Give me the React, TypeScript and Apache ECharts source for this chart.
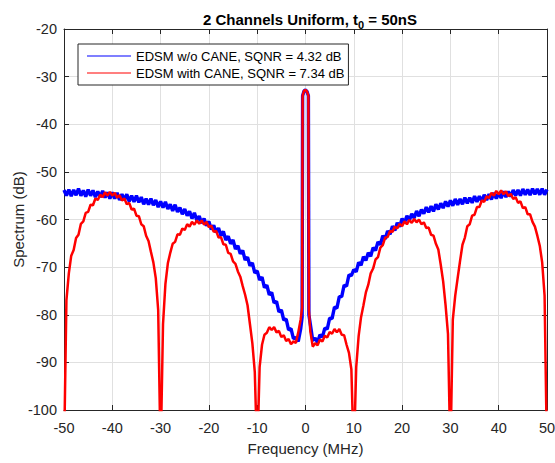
import React, { useEffect, useRef } from "react";
import * as echarts from "echarts";

// Frequency grid (MHz), shared by both series
const freqMHz = [
  -50, -49.5, -49, -48.5, -48, -47.5, -47, -46.5, -46, -45.5,
  -45, -44.5, -44, -43.5, -43, -42.5, -42, -41.5, -41, -40.5,
  -40, -39.5, -39, -38.5, -38, -37.5, -37, -36.5, -36, -35.5,
  -35, -34.5, -34, -33.5, -33, -32.5, -32, -31.5, -31, -30.5,
  -30, -29.5, -29, -28.5, -28, -27.5, -27, -26.5, -26, -25.5,
  -25, -24.5, -24, -23.5, -23, -22.5, -22, -21.5, -21, -20.5,
  -20, -19.5, -19, -18.5, -18, -17.5, -17, -16.5, -16, -15.5,
  -15, -14.5, -14, -13.5, -13, -12.5, -12, -11.5, -11, -10.5,
  -10, -9.5, -9, -8.5, -8, -7.5, -7, -6.5, -6, -5.5,
  -5, -4.5, -4, -3.5, -3, -2.5, -2, -1.5, -1,
  -0.7, -0.6, -0.3, 0, 0.3, 0.6, 0.7,
  1, 1.5, 2, 2.5, 3, 3.5, 4, 4.5, 5, 5.5,
  6, 6.5, 7, 7.5, 8, 8.5, 9, 9.5,
  10, 10.5, 11, 11.5, 12, 12.5, 13, 13.5, 14, 14.5,
  15, 15.5, 16, 16.5, 17, 17.5, 18, 18.5, 19, 19.5,
  20, 20.5, 21, 21.5, 22, 22.5, 23, 23.5, 24, 24.5,
  25, 25.5, 26, 26.5, 27, 27.5, 28, 28.5, 29, 29.5,
  30, 30.5, 31, 31.5, 32, 32.5, 33, 33.5, 34, 34.5,
  35, 35.5, 36, 36.5, 37, 37.5, 38, 38.5, 39, 39.5,
  40, 40.5, 41, 41.5, 42, 42.5, 43, 43.5, 44, 44.5,
  45, 45.5, 46, 46.5, 47, 47.5, 48, 48.5, 49, 49.5,
  50,
];

// EDSM w/o CANE (dB)
const withoutCane = [
  -53.8, -55.0, -53.7, -55.1, -53.8, -54.9, -53.5, -55.0, -53.9, -55.2,
  -53.7, -55.0, -53.9, -55.3, -54.1, -55.3, -54.0, -55.4, -54.3, -55.6,
  -54.3, -55.6, -54.4, -55.9, -54.7, -55.9, -54.7, -56.2, -55.0, -56.3,
  -55.0, -56.4, -55.3, -56.8, -55.6, -56.9, -55.6, -57.0, -55.9, -57.4,
  -56.2, -57.5, -56.3, -57.8, -56.8, -58.2, -56.9, -58.4, -57.5, -58.9,
  -57.8, -59.2, -58.3, -59.8, -58.6, -60.2, -59.3, -60.8, -59.8, -61.3,
  -60.4, -62.1, -61.2, -62.7, -61.8, -63.4, -62.5, -64.3, -63.5, -65.1,
  -64.3, -66.2, -65.5, -67.2, -66.5, -68.5, -67.9, -69.7, -69.1, -71.2,
  -70.8, -72.7, -72.1, -74.3, -73.8, -75.8, -75.3, -77.5, -77.2, -79.4,
  -79.0, -81.1, -80.9, -83.2, -82.9, -85.0, -84.8, -85.6, -83.0,
  -80.5, -34.0, -33.0, -32.8, -33.1, -34.0, -80.0,
  -82.0, -85.4, -84.9, -85.8, -84.2, -84.7, -82.8, -83.0, -80.7, -80.8,
  -78.4, -78.6, -76.2, -76.2, -73.8, -74.0, -71.6, -71.8,
  -70.5, -71.0, -69.0, -69.6, -67.8, -68.6, -67.0, -67.7, -65.9, -66.5,
  -64.7, -65.3, -63.4, -64.1, -62.4, -63.1, -61.4, -62.3, -60.7, -61.5,
  -59.8, -60.7, -59.2, -60.2, -58.8, -59.7, -58.2, -59.3, -57.9, -58.8,
  -57.4, -58.5, -57.2, -58.3, -56.8, -57.9, -56.6, -57.6, -56.2, -57.3,
  -56.0, -57.1, -55.7, -56.9, -55.7, -56.8, -55.4, -56.6, -55.4, -56.5,
  -55.1, -56.3, -55.1, -56.2, -54.8, -55.9, -54.7, -55.8, -54.4, -55.6,
  -54.4, -55.5, -54.1, -55.3, -54.1, -55.2, -53.8, -55.0, -53.8, -55.0,
  -53.6, -54.8, -53.7, -54.9, -53.5, -54.7, -53.6, -54.8, -53.5, -54.8,
  -53.7,
];

// EDSM with CANE (dB)
const withCane = [
  -110, -77, -71.3, -67.6, -66.4, -63.9, -63.2, -60.9, -60.4, -58.6,
  -58.4, -56.9, -57.0, -55.6, -55.9, -54.8, -55.3, -54.3, -55.0, -54.2,
  -55.0, -54.4, -55.4, -54.9, -56.0, -55.6, -56.8, -56.5, -57.9, -57.7,
  -59.2, -59.3, -61.0, -61.4, -63.4, -64.5, -66.8, -69.0, -72.3, -79.0,
  -110, -82, -73.5, -69.2, -67.0, -65.1, -64.7, -63.1, -63.2, -61.9,
  -62.2, -61.0, -61.5, -60.5, -61.1, -60.2, -60.9, -60.2, -61.1, -60.5,
  -61.6, -61.3, -62.6, -62.4, -63.8, -63.7, -65.2, -65.3, -67.0, -67.2,
  -68.8, -69.3, -70.9, -72.0, -74.0, -75.8, -78.0, -82.0, -86.0, -92.0,
  -110, -91.0, -86.3, -84.2, -83.8, -82.6, -83.2, -82.6, -83.7, -83.4,
  -84.7, -84.3, -85.5, -85.1, -86.2, -85.6, -85.9, -83.7, -81.0,
  -78.5, -34.0, -33.0, -32.8, -33.1, -34.0, -79.0,
  -83.5, -86.7, -86.0, -86.4, -85.2, -85.6, -84.4, -84.8, -83.6, -84.0,
  -83.0, -83.7, -83.0, -84.2, -84.3, -86.3, -88.0, -91.5,
  -110, -91, -84.5, -80.5, -78, -75.3, -73.7, -71.3, -70.3, -68.4,
  -67.9, -65.9, -65.4, -63.8, -63.7, -62.4, -62.6, -61.5, -61.9, -60.9,
  -61.4, -60.4, -61.0, -60.1, -60.7, -59.9, -60.6, -60.0, -61.0, -60.6,
  -61.8, -61.7, -63.2, -63.4, -65.1, -66.3, -69.5, -73, -78, -84,
  -110, -81, -76, -72.3, -68.7, -65.3, -63.8, -61.4, -61.0, -59.2,
  -59.0, -57.4, -57.4, -56.0, -56.3, -55.1, -55.5, -54.4, -55.0, -54.0,
  -54.7, -53.9, -54.7, -54.1, -55.1, -54.6, -55.7, -55.3, -56.5, -56.2,
  -57.6, -57.4, -58.9, -58.9, -60.5, -61.5, -63.4, -65.5, -69.0, -76.0,
  -110,
];

const seriesNames = [
  "EDSM w/o CANE, SQNR = 4.32 dB",
  "EDSM with CANE, SQNR = 7.34 dB",
];

const FONT = "'Liberation Sans', Arial, Helvetica, sans-serif";
const AX = "#262626";

export default function App() {
  const ref = useRef<HTMLDivElement>(null);

  useEffect(() => {
    if (!ref.current) return;
    const chart = echarts.init(ref.current, undefined, { renderer: "svg" });
    const pair = (ys: number[]) => freqMHz.map((x, i) => [x, ys[i]]);
    const baseAxis = {
      axisLine: { show: true, onZero: false, lineStyle: { color: AX, width: 1 } },
      axisTick: { show: true, inside: true, length: 5, lineStyle: { color: AX } },
    };
    chart.setOption({
      animation: false,
      backgroundColor: "#ffffff",
      textStyle: { fontFamily: FONT },
      title: {
        text: "{a|2 Channels Uniform, t}{b|0}{a| = 50nS}",
        left: 305,
        top: 3,
        textAlign: "center",
        textStyle: {
          rich: {
            a: { fontSize: 15, fontWeight: "bold", color: "#000", fontFamily: FONT, lineHeight: 22, verticalAlign: "middle" },
            b: { fontSize: 11, fontWeight: "bold", color: "#000", fontFamily: FONT, lineHeight: 12, verticalAlign: "bottom" },
          },
        },
      },
      legend: {
        orient: "vertical",
        left: 78,
        top: 44,
        icon: "rect",
        itemWidth: 44,
        itemHeight: 1.2,
        itemGap: 1,
        padding: [4, 4, 4, 9],
        borderColor: AX,
        borderWidth: 1,
        borderRadius: 0,
        backgroundColor: "#ffffff",
        textStyle: { fontSize: 13, color: "#000", fontFamily: FONT, lineHeight: 16 },
        data: seriesNames,
      },
      grid: { left: 64, right: 8, top: 29, bottom: 53, containLabel: false, outerBoundsMode: "none" },
      xAxis: [
        {
          type: "value",
          min: -50,
          max: 50,
          interval: 10,
          position: "bottom",
          ...baseAxis,
          axisLabel: { fontSize: 14.5, color: AX, margin: 10, fontFamily: FONT },
          splitLine: { show: true, lineStyle: { color: "#e0e0e0", width: 1 } },
          name: "Frequency (MHz)",
          nameLocation: "middle",
          nameGap: 31,
          nameTextStyle: { fontSize: 15, color: AX, fontFamily: FONT },
        },
        {
          type: "value",
          min: -50,
          max: 50,
          interval: 10,
          position: "top",
          ...baseAxis,
          axisLabel: { show: false },
          splitLine: { show: false },
        },
      ],
      yAxis: [
        {
          type: "value",
          min: -100,
          max: -20,
          interval: 10,
          position: "left",
          ...baseAxis,
          axisLabel: { fontSize: 14.5, color: AX, margin: 7, fontFamily: FONT },
          splitLine: { show: true, lineStyle: { color: "#e0e0e0", width: 1 } },
          name: "Spectrum (dB)",
          nameLocation: "middle",
          nameGap: 38,
          nameMoveOverlap: false,
          nameTextStyle: { fontSize: 15, color: AX, fontFamily: FONT },
        },
        {
          type: "value",
          min: -100,
          max: -20,
          interval: 10,
          position: "right",
          ...baseAxis,
          axisLabel: { show: false },
          splitLine: { show: false },
        },
      ],
      series: [
        {
          name: seriesNames[0],
          type: "line",
          xAxisIndex: 0,
          yAxisIndex: 0,
          data: pair(withoutCane),
          showSymbol: false,
          symbol: "none",
          clip: true,
          color: "#0000ff",
          lineStyle: { color: "#0000ff", width: 3.4 },
        },
        {
          name: seriesNames[1],
          type: "line",
          xAxisIndex: 0,
          yAxisIndex: 0,
          data: pair(withCane),
          showSymbol: false,
          symbol: "none",
          clip: true,
          color: "#ff0000",
          lineStyle: { color: "#ff0000", width: 2.5 },
        },
      ],
    });
    return () => chart.dispose();
  }, []);

  return (
    <div
      ref={ref}
      style={{ position: "absolute", left: 0, top: 0, width: 555, height: 463, background: "#fff" }}
    />
  );
}
